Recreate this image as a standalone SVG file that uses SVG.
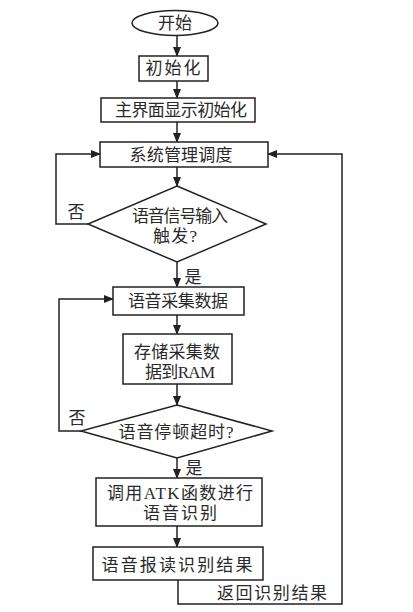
<svg xmlns="http://www.w3.org/2000/svg" width="413" height="612" viewBox="0 0 413 612">
<style>
.s{fill:#fff;stroke:#222;stroke-width:1.5}
.t{font-family:"Liberation Serif","Noto Sans CJK SC",serif;font-size:17px;fill:#2a2a2a;text-anchor:middle;dominant-baseline:central}
.c{fill:none;stroke:#222;stroke-width:1.5}
</style>
<defs>
<marker id="a" markerWidth="10" markerHeight="8" refX="9" refY="4" orient="auto" markerUnits="userSpaceOnUse">
<path d="M0,0 L10,4 L0,8 Z" fill="#222"/>
</marker>
</defs>
<rect width="413" height="612" fill="#fff"/>
<g id="connectors">
<path class="c" d="M177,35 V56" marker-end="url(#a)"/>
<path class="c" d="M177,81 V98" marker-end="url(#a)"/>
<path class="c" d="M177,122 V142" marker-end="url(#a)"/>
<path class="c" d="M177,167 V186" marker-end="url(#a)"/>
<path class="c" d="M177,262 V287" marker-end="url(#a)"/>
<path class="c" d="M88,224 H56 V154 H100" marker-end="url(#a)"/>
<path class="c" d="M177,315 V334" marker-end="url(#a)"/>
<path class="c" d="M177,384 V405" marker-end="url(#a)"/>
<path class="c" d="M81,431 H59 V299 H113" marker-end="url(#a)"/>
<path class="c" d="M177,458 V478" marker-end="url(#a)"/>
<path class="c" d="M177,526 V547" marker-end="url(#a)"/>
<path class="c" d="M178,580 V604 H342 V154 H268" marker-end="url(#a)"/>
<text class="t" x="76" y="212">否</text>
<text class="t" x="193" y="277">是</text>
<text class="t" x="77" y="418">否</text>
<text class="t" x="194" y="468">是</text>
<text class="t" x="272" y="593" textLength="110" lengthAdjust="spacing">返回识别结果</text>
</g>
<g id="start">
<ellipse class="s" cx="175" cy="23" rx="43" ry="12.5"/>
<text class="t" x="175" y="23" textLength="34" lengthAdjust="spacing">开始</text>
</g>
<g id="init">
<rect class="s" x="139" y="56" width="69" height="25"/>
<text class="t" x="173" y="68" textLength="55" lengthAdjust="spacing">初始化</text>
</g>
<g id="ui-init">
<rect class="s" x="101" y="98" width="154" height="24"/>
<text class="t" x="181" y="110" textLength="132" lengthAdjust="spacing">主界面显示初始化</text>
</g>
<g id="sched">
<rect class="s" x="100" y="142" width="168" height="25"/>
<text class="t" x="181" y="155" textLength="103" lengthAdjust="spacing">系统管理调度</text>
</g>
<g id="trigger">
<path class="s" d="M177,186 L266,224 L177,262 L88,224 Z"/>
<text class="t" x="180" y="216" textLength="96" lengthAdjust="spacing">语音信号输入</text>
<text class="t" x="175" y="236" textLength="44" lengthAdjust="spacing">触发?</text>
</g>
<g id="collect">
<rect class="s" x="113" y="287" width="131" height="28"/>
<text class="t" x="178" y="301" textLength="100" lengthAdjust="spacing">语音采集数据</text>
</g>
<g id="store">
<rect class="s" x="123" y="334" width="109" height="50"/>
<text class="t" x="177" y="352" textLength="86" lengthAdjust="spacing">存储采集数</text>
<text class="t" x="180" y="372" textLength="70" lengthAdjust="spacing">据到RAM</text>
</g>
<g id="timeout">
<path class="s" d="M177,405 L272,431 L177,458 L81,431 Z"/>
<text class="t" x="176" y="432" textLength="115" lengthAdjust="spacing">语音停顿超时?</text>
</g>
<g id="recognize">
<rect class="s" x="96" y="478" width="166" height="48"/>
<text class="t" x="180" y="493" textLength="146" lengthAdjust="spacing">调用ATK函数进行</text>
<text class="t" x="180" y="513" textLength="74" lengthAdjust="spacing">语音识别</text>
</g>
<g id="report">
<rect class="s" x="93" y="547" width="170" height="33"/>
<text class="t" x="177" y="565" textLength="151" lengthAdjust="spacing">语音报读识别结果</text>
</g>
</svg>
